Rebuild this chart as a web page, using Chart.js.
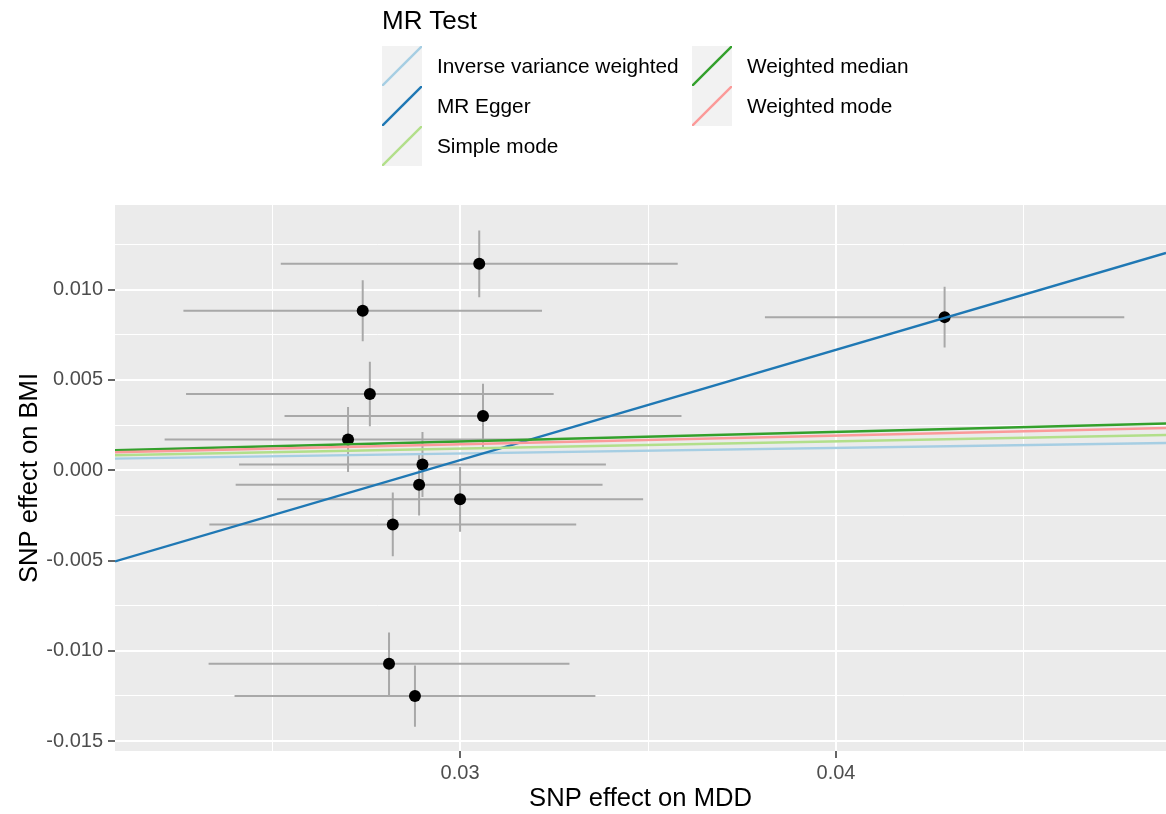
<!DOCTYPE html>
<html>
<head>
<meta charset="utf-8">
<title>MR scatter: MDD vs BMI</title>
<script src="https://cdn.jsdelivr.net/npm/chart.js@4.4.1/dist/chart.umd.min.js"></script>
<style>
  html, body { margin: 0; padding: 0; background: #fff; overflow: hidden; }
  #wrap { position: relative; width: 1166px; height: 814px; font-family: "Liberation Sans", Arial, Helvetica, sans-serif; }
  #legend-title { position: absolute; left: 382px; top: 5px; font-size: 26px; line-height: 30px; color: #000; }
  .key { position: absolute; width: 40px; height: 40px; background: #f2f2f2; }
  .key svg { display: block; }
  .key-label { position: absolute; height: 40px; line-height: 40px; font-size: 20.8px; color: #000; white-space: nowrap; }
</style>
</head>
<body>
<div id="wrap">
  <canvas id="mr" width="1166" height="814"></canvas>
  <div id="legend-title">MR Test</div>
</div>
<script>
// MR methods and their fitted lines (y = intercept + slope * x)
const methods = ['Inverse variance weighted', 'MR Egger', 'Simple mode', 'Weighted median', 'Weighted mode'];
const methodColours = ['#a6cee3', '#1f78b4', '#b2df8a', '#33a02c', '#fb9a99'];
const slopes = [0.031, 0.611, 0.040, 0.053, 0.048];
const intercepts = [0, -0.01777, 0, 0, 0];

// SNP effects with standard errors
const snpMDD = [0.03051, 0.02741, 0.02760, 0.03061, 0.02702, 0.02900, 0.02891, 0.03000, 0.02821, 0.02811, 0.02880, 0.04289];
const seMDD  = [0.00528, 0.00477, 0.00489, 0.00528, 0.00488, 0.00488, 0.00488, 0.00487, 0.00488, 0.00480, 0.00480, 0.00478];
const snpBMI = [0.01143, 0.00883, 0.00422, 0.00300, 0.00170, 0.00032, -0.00080, -0.00161, -0.00300, -0.01072, -0.01251, 0.00848];
const seBMI  = [0.00185, 0.00169, 0.00179, 0.00179, 0.00180, 0.00180, 0.00170, 0.00180, 0.00177, 0.00173, 0.00169, 0.00168];

// axis limits, grid and labelled ticks
const xMin = 0.02082, xMax = 0.04878;
const yMin = -0.01555, yMax = 0.01469;
const xGrid = [0.025, 0.03, 0.035, 0.04, 0.045];
const xLabels = [0.03, 0.04];
const yGrid = [-0.015, -0.0125, -0.01, -0.0075, -0.005, -0.0025, 0, 0.0025, 0.005, 0.0075, 0.01, 0.0125];
const yLabels = [-0.015, -0.01, -0.005, 0, 0.005, 0.01];

const FONT = '"Liberation Sans", Arial, Helvetica, sans-serif';

// legend keys (ggplot style: grey box with a diagonal line)
const wrap = document.getElementById('wrap');
methods.forEach((m, i) => {
  const col = i < 3 ? 0 : 1;
  const row = i < 3 ? i : i - 3;
  const left = col ? 692 : 382;
  const top = 46 + row * 40;
  const key = document.createElement('div');
  key.className = 'key';
  key.style.left = left + 'px';
  key.style.top = top + 'px';
  key.innerHTML = '<svg width="40" height="40"><line x1="0" y1="40" x2="40" y2="0" stroke="' +
    methodColours[i] + '" stroke-width="2.4"/></svg>';
  wrap.appendChild(key);
  const lab = document.createElement('div');
  lab.className = 'key-label';
  lab.style.left = (left + 55) + 'px';
  lab.style.top = top + 'px';
  lab.textContent = m;
  wrap.appendChild(lab);
});

// grey panel behind the plot
const panelBg = {
  id: 'panelBg',
  beforeDraw(chart) {
    const { ctx, chartArea: a } = chart;
    ctx.save();
    ctx.fillStyle = '#ebebeb';
    ctx.fillRect(a.left, a.top, a.right - a.left, a.bottom - a.top);
    ctx.restore();
  }
};

const hBars = snpMDD.flatMap((x, i) => [
  { x: x - seMDD[i], y: snpBMI[i] }, { x: x + seMDD[i], y: snpBMI[i] }, { x, y: null }
]);
const vBars = snpMDD.flatMap((x, i) => [
  { x, y: snpBMI[i] - seBMI[i] }, { x, y: snpBMI[i] + seBMI[i] }, { x, y: null }
]);

const fitLines = methods.map((m, i) => ({
  type: 'line',
  label: m,
  data: [xMin, xMax].map((x) => ({ x, y: intercepts[i] + slopes[i] * x })),
  borderColor: methodColours[i],
  borderWidth: 2.4,
  pointRadius: 0,
  fill: false,
  tension: 0,
  order: methods.length - 1 - i
}));

const barStyle = { type: 'line', borderColor: '#a8a8a8', borderWidth: 2, pointRadius: 0, spanGaps: false, fill: false, order: 20 };

// no extra label padding, so the panel runs to the canvas edge
function noPad(s) { s.paddingLeft = 0; s.paddingRight = 0; s.paddingTop = 0; s.paddingBottom = 0; }

new Chart(document.getElementById('mr'), {
  type: 'scatter',
  data: {
    datasets: [
      ...fitLines,
      {
        type: 'scatter',
        label: 'SNPs',
        data: snpMDD.map((x, i) => ({ x, y: snpBMI[i] })),
        backgroundColor: '#000',
        borderWidth: 0,
        pointRadius: 6,
        order: 10
      },
      Object.assign({ label: 'se MDD', data: hBars }, barStyle),
      Object.assign({ label: 'se BMI', data: vBars }, barStyle)
    ]
  },
  options: {
    responsive: false,
    animation: false,
    devicePixelRatio: 1,
    layout: { autoPadding: false, padding: { top: 205, left: 15, right: 0, bottom: 0 } },
    plugins: { legend: { display: false }, tooltip: { enabled: false } },
    scales: {
      x: {
        type: 'linear',
        min: xMin, max: xMax,
        afterBuildTicks: (s) => { s.ticks = xGrid.map((v) => ({ value: v })); },
        afterFit: (s) => { s.height = 63; noPad(s); },
        border: { display: false },
        grid: {
          color: '#ffffff',
          lineWidth: (c) => (xLabels.includes(c.tick.value) ? 2 : 1),
          tickColor: (c) => (xLabels.includes(c.tick.value) ? '#333333' : 'rgba(0,0,0,0)'),
          tickWidth: 1.5,
          tickLength: 7
        },
        ticks: {
          autoSkip: false, maxRotation: 0, padding: 3,
          color: '#4d4d4d', font: { family: FONT, size: 20 },
          callback: (v) => (xLabels.includes(v) ? String(v) : '')
        },
        title: { display: true, text: 'SNP effect on MDD', color: '#000', font: { family: FONT, size: 25.6 }, padding: 0 }
      },
      y: {
        type: 'linear',
        min: yMin, max: yMax,
        afterBuildTicks: (s) => { s.ticks = yGrid.map((v) => ({ value: v })); },
        afterFit: (s) => { s.width = 100; noPad(s); },
        border: { display: false },
        grid: {
          color: '#ffffff',
          lineWidth: (c) => (yLabels.includes(c.tick.value) ? 2 : 1),
          tickColor: (c) => (yLabels.includes(c.tick.value) ? '#333333' : 'rgba(0,0,0,0)'),
          tickWidth: 1.5,
          tickLength: 7
        },
        ticks: {
          autoSkip: false, padding: 5,
          color: '#4d4d4d', font: { family: FONT, size: 20 },
          callback: (v) => (yLabels.includes(v) ? v.toFixed(3) : '')
        },
        title: { display: true, text: 'SNP effect on BMI', color: '#000', font: { family: FONT, size: 25.6 }, padding: 0 }
      }
    }
  },
  plugins: [panelBg]
});
</script>
</body>
</html>
